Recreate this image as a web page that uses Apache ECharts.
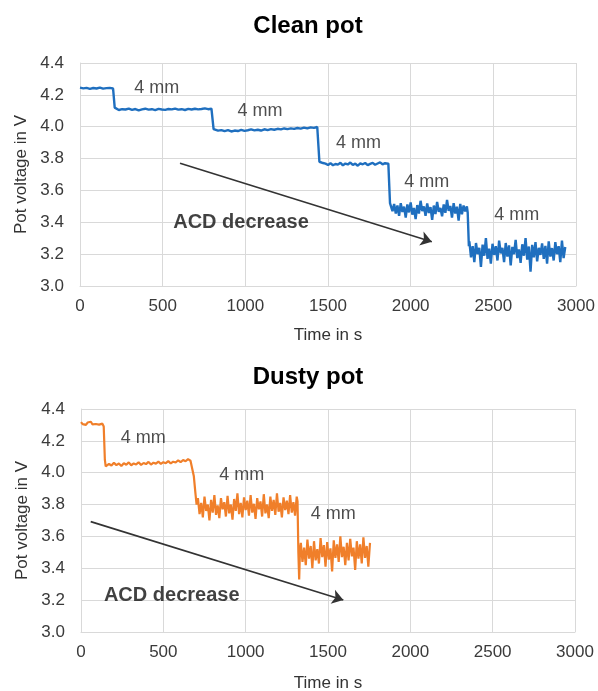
<!DOCTYPE html>
<html><head><meta charset="utf-8">
<script src="https://cdn.jsdelivr.net/npm/echarts@6/dist/echarts.min.js"></script>
<style>html,body{margin:0;padding:0;background:#fff}#c{width:598px;height:691px}</style>
</head><body><div id="c"></div><script>
// ---- Clean pot: time (s) and pot voltage (V) ----
var cleanTime = [0,20,40,60,80,100,120,140,160,180,200,205,210,
 215,235,255,275,295,315,335,355,375,395,415,435,455,475,495,515,535,555,575,595,615,635,655,675,695,715,735,755,775,795,800,808,
 815,835,855,875,895,915,935,955,975,995,1015,1035,1055,1075,1095,1115,1135,1155,1175,1195,1215,1235,1255,1275,1295,1315,1335,1355,1375,1395,1415,1435,1440,1448,
 1455,1470,1485,1500,1515,1530,1545,1560,1575,1590,1605,1620,1635,1650,1665,1680,1695,1710,1725,1740,1755,1770,1785,1800,1815,1830,1845,1865,1875,
 1880,1890,1900,1910,1920,1930,1940,1950,1960,1970,1980,1990,2000,2010,2020,2030,2040,2050,2060,2070,2080,2090,2100,2110,2120,2130,2140,2150,2160,2170,2180,2190,2200,2210,2220,2230,2240,2250,2260,2270,2280,2290,2300,2310,2320,2330,2340,2345,2352,
 2355,2365,2375,2385,2395,2405,2415,2425,2435,2445,2455,2465,2475,2485,2495,2505,2515,2525,2535,2545,2555,2565,2575,2585,2595,2605,2615,2625,2635,2645,2655,2665,2675,2685,2695,2705,2715,2725,2735,2745,2755,2765,2775,2785,2795,2805,2815,2825,2835,2845,2855,2865,2875,2885,2895,2905,2915,2925,2935];
var cleanVolt = [4.245,4.241,4.244,4.238,4.243,4.240,4.246,4.239,4.242,4.244,4.240,4.242,4.120,
 4.112,4.105,4.110,4.108,4.114,4.106,4.111,4.103,4.109,4.113,4.107,4.110,4.104,4.112,4.108,4.106,4.111,4.109,4.114,4.107,4.110,4.105,4.112,4.108,4.113,4.109,4.111,4.115,4.110,4.113,4.112,3.985,
 3.982,3.975,3.979,3.972,3.978,3.970,3.976,3.973,3.980,3.974,3.978,3.983,3.977,3.981,3.976,3.984,3.979,3.985,3.981,3.987,3.983,3.989,3.985,3.990,3.986,3.992,3.988,3.994,3.990,3.996,3.993,3.998,3.997,3.780,
 3.785,3.772,3.768,3.760,3.771,3.758,3.766,3.762,3.774,3.757,3.769,3.763,3.775,3.760,3.768,3.755,3.770,3.764,3.772,3.759,3.767,3.773,3.761,3.769,3.776,3.764,3.771,3.768,3.520,
 3.530,3.470,3.515,3.455,3.505,3.440,3.520,3.465,3.498,3.430,3.512,3.462,3.525,3.448,3.490,3.420,3.508,3.455,3.535,3.470,3.500,3.440,3.518,3.458,3.495,3.415,3.505,3.452,3.528,3.466,3.490,3.438,3.512,3.460,3.540,3.472,3.502,3.430,3.520,3.455,3.498,3.410,3.515,3.450,3.505,3.468,3.500,3.460,3.250,
 3.280,3.180,3.250,3.150,3.270,3.200,3.240,3.120,3.260,3.190,3.300,3.170,3.235,3.140,3.265,3.195,3.250,3.160,3.285,3.205,3.240,3.150,3.270,3.185,3.255,3.130,3.245,3.200,3.290,3.175,3.230,3.145,3.262,3.190,3.300,3.165,3.248,3.090,3.258,3.180,3.275,3.155,3.240,3.195,3.268,3.170,3.252,3.140,3.280,3.185,3.238,3.160,3.275,3.200,3.250,3.150,3.285,3.175,3.245];

// ---- Dusty pot ----
var dustyTime = [0,10,20,30,40,50,60,70,80,90,100,110,120,130,138,145,150,
 155,170,185,200,215,230,245,260,275,290,305,320,335,350,365,380,395,410,425,440,455,470,485,500,515,530,545,560,575,590,605,620,635,650,665,672,685,695,702,
 710,720,730,740,750,760,770,780,790,800,810,820,830,840,850,860,870,880,890,900,910,920,930,940,950,960,970,980,990,1000,1010,1020,1030,1040,1050,1060,1070,1080,1090,1100,1110,1120,1130,1140,1150,1160,1170,1180,1190,1200,1210,1220,1230,1240,1250,1260,1270,1280,1290,1300,1310,1315,1320,1325,1330,
 1335,1345,1355,1365,1375,1385,1395,1405,1415,1425,1435,1445,1455,1465,1475,1485,1495,1505,1515,1525,1535,1545,1555,1565,1575,1585,1595,1605,1615,1625,1635,1645,1655,1665,1675,1685,1695,1705,1715,1725,1735,1745,1755];
var dustyVolt = [4.318,4.305,4.312,4.300,4.315,4.308,4.320,4.303,4.311,4.306,4.316,4.302,4.313,4.308,4.290,4.080,4.040,
 4.040,4.055,4.045,4.062,4.048,4.058,4.042,4.060,4.050,4.065,4.047,4.058,4.052,4.066,4.049,4.061,4.054,4.068,4.051,4.063,4.057,4.070,4.055,4.066,4.060,4.073,4.058,4.069,4.064,4.078,4.066,4.080,4.072,4.085,4.075,4.070,3.980,3.870,3.800,
 3.840,3.740,3.810,3.720,3.850,3.760,3.800,3.700,3.830,3.750,3.860,3.735,3.795,3.715,3.840,3.770,3.815,3.725,3.855,3.745,3.800,3.705,3.835,3.760,3.870,3.740,3.810,3.720,3.845,3.765,3.825,3.730,3.860,3.750,3.805,3.710,3.840,3.770,3.820,3.725,3.865,3.745,3.800,3.715,3.850,3.760,3.830,3.735,3.870,3.755,3.810,3.720,3.845,3.765,3.825,3.740,3.860,3.750,3.815,3.730,3.850,3.820,3.500,3.330,3.520,
 3.560,3.440,3.530,3.420,3.580,3.460,3.540,3.400,3.570,3.450,3.520,3.430,3.590,3.470,3.545,3.410,3.565,3.455,3.525,3.380,3.575,3.465,3.550,3.440,3.600,3.470,3.535,3.420,3.560,3.450,3.585,3.475,3.530,3.390,3.570,3.460,3.550,3.430,3.595,3.465,3.540,3.410,3.560];

// ---- Annotations (data coordinates: time, voltage, text) ----
var cleanNotes = [[464,4.24,'4 mm'],[1089,4.10,'4 mm'],[1684,3.896,'4 mm'],[2097,3.655,'4 mm'],[2642,3.446,'4 mm'],[974,3.396,'ACD decrease']];
var dustyNotes = [[378,4.22,'4 mm'],[976,3.986,'4 mm'],[1532,3.739,'4 mm'],[551,3.232,'ACD decrease']];
var cleanArrow = [[605,3.77],[2128,3.278]];
var dustyArrow = [[59,3.693],[1593,3.201]];

var titles = ['Clean pot','Dusty pot'];
var xTitle = 'Time in s';
var yTitle = 'Pot voltage in V';

function pairs(t, v){ var out=[]; for(var i=0;i<t.length;i++) out.push([t[i],v[i]]); return out; }

var FONT = 'Liberation Sans, Arial, sans-serif';
var chart = echarts.init(document.getElementById('c'), null, {renderer:'canvas'});

function xAx(gi){
  return {gridIndex:gi, type:'value', min:0, max:3000, interval:500,
    name:xTitle, nameLocation:'middle', nameGap: gi===0?41:43,
    nameTextStyle:{fontFamily:FONT, fontSize:17, color:'#333'},
    axisLine:{show:true, lineStyle:{color:'#d9d9d9'}}, axisTick:{show:false},
    axisLabel:{fontFamily:FONT, fontSize:17, color:'#3a3a3a', margin:12, formatter:function(v){return String(v);}},
    splitLine:{show:true, lineStyle:{color:'#d9d9d9', width:1}}};
}
function yAx(gi){
  return {gridIndex:gi, type:'value', min:3.0, max:4.4, interval:0.2,
    name:yTitle, nameLocation:'middle', nameGap:48,
    nameTextStyle:{fontFamily:FONT, fontSize:17, color:'#333'},
    axisLine:{show:true, lineStyle:{color:'#d9d9d9'}}, axisTick:{show:false},
    axisLabel:{fontFamily:FONT, fontSize:17, color:'#3a3a3a', margin:16, formatter:function(v){return v.toFixed(1);}},
    splitLine:{show:true, lineStyle:{color:'#d9d9d9', width:1}}};
}
function notesSeries(gi, notes, arrow){
  return {type:'scatter', xAxisIndex:gi, yAxisIndex:gi, symbolSize:1, itemStyle:{color:'rgba(0,0,0,0)'}, silent:true, z:5,
    data: notes.map(function(n){
      var bold = n[2] === 'ACD decrease';
      return {value:[n[0],n[1]], name:n[2],
        label:{fontSize: bold?20:18, fontWeight: bold?'bold':'normal', color: bold?'#111':'#222'}};
    }),
    label:{show:true, position:'inside', formatter:function(p){return p.name;}, fontFamily:FONT},
    labelLayout:{hideOverlap:false},
    markLine:{silent:true, symbol:['none','arrow'], symbolSize:11, label:{show:false},
      lineStyle:{color:'#333', width:1.6, type:'solid'},
      itemStyle:{color:'#333'},
      data:[[{coord:arrow[0]},{coord:arrow[1]}]]}
  };
}

chart.setOption({
  animation:false,
  backgroundColor:'#fff',
  title:[
    {text:titles[0], left:303, top:9, textAlign:'center', textStyle:{fontFamily:FONT, fontSize:24, fontWeight:'bold', color:'#000'}},
    {text:titles[1], left:303, top:360, textAlign:'center', textStyle:{fontFamily:FONT, fontSize:24, fontWeight:'bold', color:'#000'}}
  ],
  grid:[
    {left:80, right:22, top:63, height:223, containLabel:false, outerBoundsMode:'none'},
    {left:81, right:23, top:409, height:223, containLabel:false, outerBoundsMode:'none'}
  ],
  xAxis:[xAx(0), xAx(1)],
  yAxis:[yAx(0), yAx(1)],
  series:[
    {type:'line', xAxisIndex:0, yAxisIndex:0, data:pairs(cleanTime, cleanVolt), showSymbol:false, symbol:'none',
      lineStyle:{color:'#1f6fbf', width:2.4}, z:3},
    {type:'line', xAxisIndex:1, yAxisIndex:1, data:pairs(dustyTime, dustyVolt), showSymbol:false, symbol:'none',
      lineStyle:{color:'#f07f2a', width:2.2}, z:3},
    notesSeries(0, cleanNotes, cleanArrow),
    notesSeries(1, dustyNotes, dustyArrow)
  ]
});
</script></body></html>
